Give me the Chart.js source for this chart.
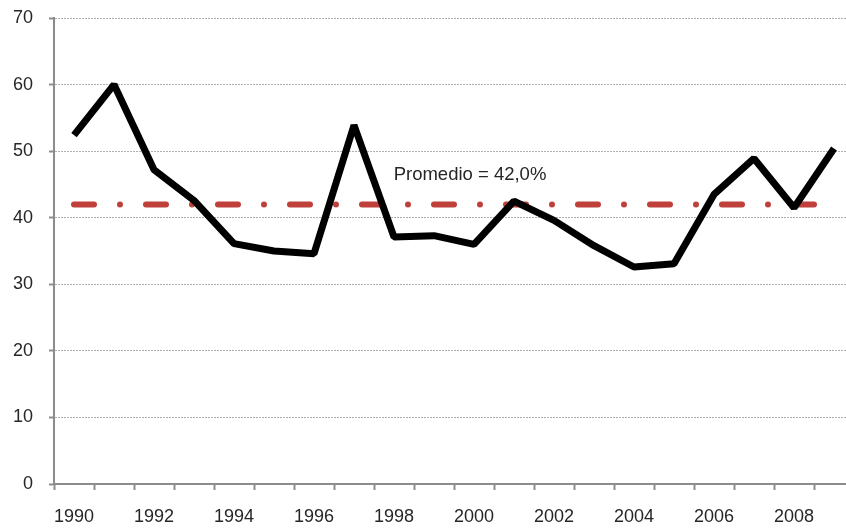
<!DOCTYPE html>
<html>
<head>
<meta charset="utf-8">
<script src="https://cdn.jsdelivr.net/npm/chart.js@4.4.1/dist/chart.umd.min.js"></script>
<style>
  html, body { margin: 0; padding: 0; background: #fff; overflow: hidden; width: 846px; height: 529px; }
  #wrap { position: absolute; left: 0; top: 0; width: 855px; height: 529px; }
</style>
</head>
<body>
<div id="wrap"><canvas id="c"></canvas></div>
<script>
const years = ['1990','1991','1992','1993','1994','1995','1996','1997','1998','1999',
               '2000','2001','2002','2003','2004','2005','2006','2007','2008','2009'];
const values = [52.4, 60.0, 47.2, 42.6, 36.1, 35.0, 34.6, 53.9, 37.1, 37.3,
                36.0, 42.5, 39.6, 35.8, 32.6, 33.1, 43.5, 48.9, 41.5, 50.4];
const averageValue = 42.0;
const averageSeries = years.map(() => averageValue);
const yTicks = [0, 10, 20, 30, 40, 50, 60, 70];
const annotationText = 'Promedio = 42,0%';
const annotationAt = { index: 9.9, value: 46.4 };

const font = { family: '"Liberation Sans", Arial, sans-serif', size: 18 };

const annotationPlugin = {
  id: 'avgLabel',
  afterDatasetsDraw(chart) {
    const { ctx, scales } = chart;
    const x = scales.x.getPixelForValue(annotationAt.index);
    const y = scales.y.getPixelForValue(annotationAt.value);
    ctx.save();
    ctx.font = '18.5px "Liberation Sans", Arial, sans-serif';
    ctx.fillStyle = '#262626';
    ctx.textAlign = 'center';
    ctx.textBaseline = 'middle';
    ctx.fillText(annotationText, x, y);
    ctx.restore();
  }
};

new Chart(document.getElementById('c'), {
  type: 'line',
  data: {
    labels: years,
    datasets: [
      {
        data: averageSeries,
        borderColor: '#c0403c',
        borderWidth: 6,
        borderDash: [20, 26, 0, 26],
        borderCapStyle: 'round',
        pointRadius: 0,
        tension: 0,
        order: 2
      },
      {
        data: values,
        borderColor: '#000000',
        borderWidth: 7,
        borderJoinStyle: 'bevel',
        borderCapStyle: 'butt',
        pointRadius: 0,
        tension: 0,
        order: 1
      }
    ]
  },
  options: {
    responsive: true,
    maintainAspectRatio: false,
    animation: false,
    devicePixelRatio: 1,
    layout: { padding: { left: 13, top: 18, right: 1, bottom: 0 } },
    plugins: { legend: { display: false }, tooltip: { enabled: false } },
    scales: {
      x: {
        type: 'category',
        offset: true,
        grid: {
          offset: true,
          drawOnChartArea: false,
          drawTicks: true,
          tickLength: 6,
          tickWidth: 2,
          tickColor: '#8c8c8c'
        },
        border: { display: true, color: '#8c8c8c', width: 2 },
        ticks: {
          autoSkip: false,
          maxRotation: 0,
          minRotation: 0,
          padding: 16,
          color: '#262626',
          font: font,
          callback: function (v, i) { return i % 2 === 0 ? years[i] : ''; }
        },
        afterFit: (axis) => {
          axis.height = 45;
          axis.paddingLeft = 0;
          axis.paddingRight = 0;
        }
      },
      y: {
        min: 0,
        max: 70,
        afterBuildTicks: (axis) => { axis.ticks = yTicks.map(v => ({ value: v })); },
        grid: {
          color: '#b0b0b0',
          lineWidth: 1,
          drawTicks: true,
          tickLength: 5,
          tickColor: '#8c8c8c',
          tickWidth: 2
        },
        border: { display: true, color: '#8c8c8c', width: 2, dash: [2, 1] },
        ticks: {
          padding: 16,
          color: '#262626',
          font: font
        },
        afterFit: (axis) => {
          axis.width = 41;
          axis.paddingTop = 0;
          axis.paddingBottom = 0;
        }
      }
    }
  },
  plugins: [annotationPlugin]
});
</script>
</body>
</html>
